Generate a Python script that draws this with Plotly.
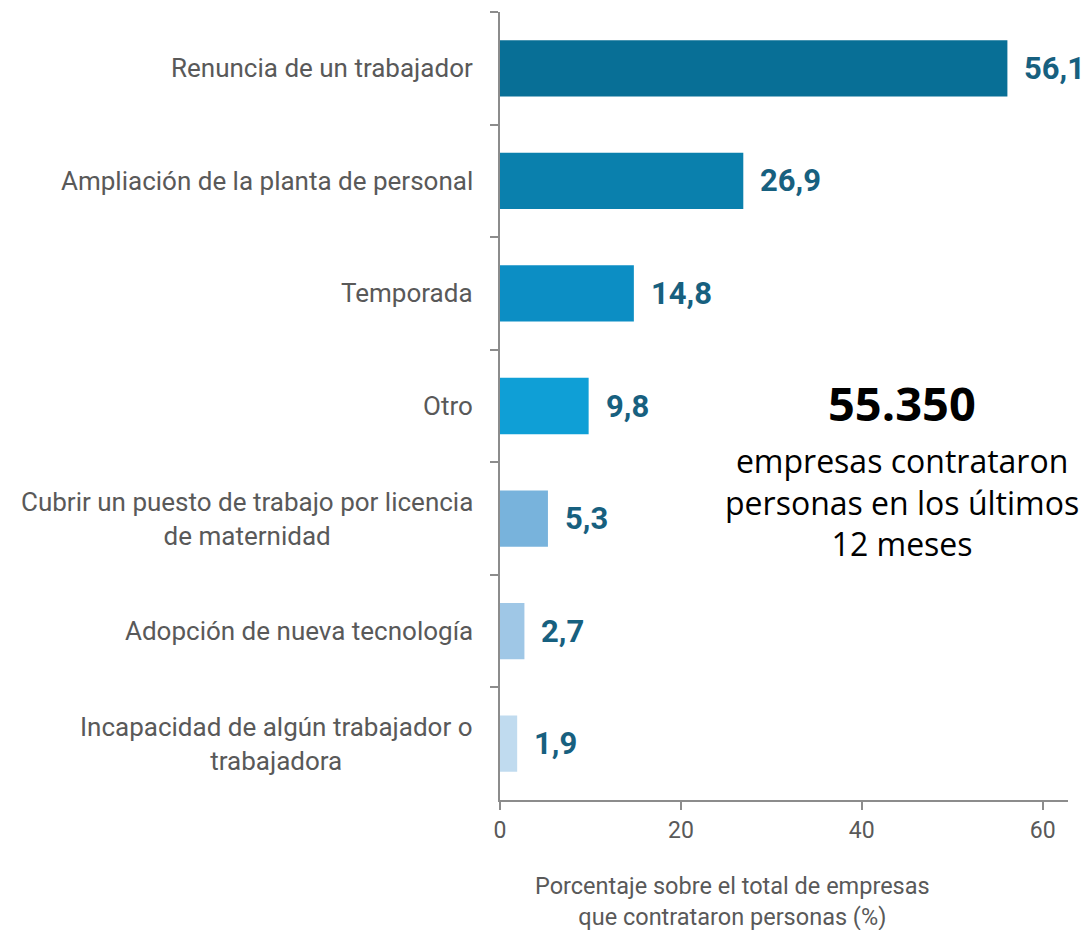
import plotly.graph_objects as go

categories = [
    "Renuncia de un trabajador",
    "Ampliación de la planta de personal",
    "Temporada",
    "Otro",
    "Cubrir un puesto de trabajo por licencia<br>de maternidad",
    "Adopción de nueva tecnología",
    "Incapacidad de algún trabajador o<br>trabajadora",
]
values = [56.1, 26.9, 14.8, 9.8, 5.3, 2.7, 1.9]
bar_colors = ["#086f96", "#0a80ad", "#0c8ec4", "#0f9fd6", "#78b3dc", "#9fc7e6", "#c0dbef"]
x_ticks = [0, 20, 40, 60]
big_number = "55.350"
big_text = "empresas contrataron<br>personas en los últimos<br>12 meses"
axis_title = "Porcentaje sobre el total de empresas<br>que contrataron personas (%)"

# plot area in screen pixels (page has an 8px body offset)
PL, PR, PT, PB = 500, 1068, 12, 800
OFF = 8

fig = go.Figure()
fig.add_trace(go.Bar(
    x=values, y=categories, orientation="h",
    marker=dict(color=bar_colors, line=dict(width=0)),
    width=0.5, hoverinfo="skip",
))

label_font = dict(family="Roboto, Liberation Sans, sans-serif", size=26, color="#595959")
for c, v in zip(categories, values):
    fig.add_annotation(x=0, y=c, xref="x", yref="y", text=c, showarrow=False,
                       xanchor="right", xshift=-25, align="center", font=label_font)
    fig.add_annotation(x=v, y=c, xref="x", yref="y", text=f"{v:.1f}".replace(".", ","),
                       showarrow=False, xanchor="left", xshift=15,
                       font=dict(family="Roboto, Liberation Sans, sans-serif", size=31,
                                 color="#17607f", weight="bold"))


def px(xs):
    return (xs - PL) / (PR - PL)


def py(ys):
    return (PB - ys) / (PB - PT)


fig.add_annotation(x=px(902), y=py(403), xref="paper", yref="paper",
                   xanchor="center", yanchor="middle",
                   text=f"<b>{big_number}</b>", showarrow=False,
                   font=dict(family="Open Sans, sans-serif", size=47, color="#000000"))
fig.add_annotation(x=px(902), y=py(502), xref="paper", yref="paper",
                   xanchor="center", yanchor="middle",
                   text=big_text, showarrow=False, align="center",
                   font=dict(family="Open Sans, sans-serif", size=32, color="#000000"))
fig.add_annotation(x=px(732), y=py(901), xref="paper", yref="paper",
                   xanchor="center", yanchor="middle",
                   text=axis_title, showarrow=False, align="center",
                   font=dict(family="Roboto, sans-serif", size=23.5, color="#595959"))

fig.update_layout(
    width=1092, height=930,
    margin=dict(l=PL - OFF, r=1092 + OFF - PR, t=PT - OFF, b=930 + OFF - PB),
    plot_bgcolor="white", paper_bgcolor="white",
    showlegend=False,
    xaxis=dict(range=[0, 62.8], tickvals=x_ticks, showgrid=False, zeroline=False,
               showline=True, linecolor="#8c8c8c", linewidth=2,
               ticks="outside", ticklen=8, tickcolor="#8c8c8c", tickwidth=2,
               tickfont=dict(family="Roboto, sans-serif", size=23, color="#595959")),
    yaxis=dict(autorange="reversed", showgrid=False, zeroline=False, showticklabels=False,
               showline=True, linecolor="#8c8c8c", linewidth=2,
               ticks="outside", tickson="boundaries", ticklen=8, tickcolor="#8c8c8c", tickwidth=2),
)

fig.write_html("out.html")
